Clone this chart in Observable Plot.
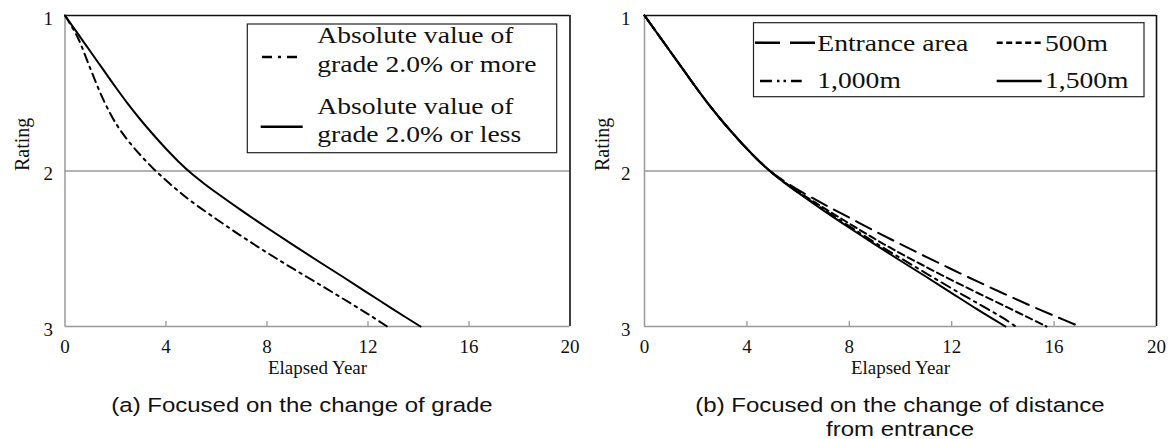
<!DOCTYPE html>
<html><head><meta charset="utf-8">
<script src="https://cdn.jsdelivr.net/npm/d3@7"></script>
<script src="https://cdn.jsdelivr.net/npm/@observablehq/plot@0.6"></script>
<style>
body{margin:0;background:#fff;}
#wrap{position:relative;width:1168px;height:439px;overflow:hidden;background:#fff;}
.panel{position:absolute;top:0;}
.cap{position:absolute;top:393px;width:600px;text-align:center;font-family:"Liberation Sans",Arial,sans-serif;font-size:20.5px;line-height:24px;color:#111;transform:scaleX(1.17);transform-origin:center;white-space:pre;}
</style></head><body>
<div id="wrap">
  <div id="pa" class="panel" style="left:0"></div>
  <div id="pb" class="panel" style="left:584px"></div>
  <div class="cap" id="capa" style="left:2px"></div>
  <div class="cap" id="capb" style="left:600px"></div>
</div>
<script>
// ---------- data ----------
const xTicks = [0, 4, 8, 12, 16, 20];
const xTickMarks = [4, 8, 12, 16];
const yTicks = [1, 2, 3];
const gridY = [2];
const xLabel = "Elapsed Year";
const yLabel = "Rating";
const captions = ["(a) Focused on the change of grade", "(b) Focused on the change of distance\nfrom entrance"];

// panel (a)
const moreLabel = ["Absolute value of", "grade 2.0% or more"];
const moreYears = [0, 0.5, 1, 1.5, 2, 2.5, 3, 3.5, 4, 4.5, 5, 6, 7, 8, 9, 10, 11, 12, 12.76];
const moreRating = [1, 1.14, 1.34, 1.535, 1.69, 1.805, 1.9, 1.985, 2.06, 2.13, 2.195, 2.31, 2.42, 2.525, 2.625, 2.722, 2.82, 2.92, 3.0];
const lessLabel = ["Absolute value of", "grade 2.0% or less"];
const lessYears = [0, 0.5, 1, 1.5, 2, 2.5, 3, 3.5, 4, 4.5, 5, 5.5, 6, 7, 8, 9, 10, 11, 12, 13, 14.08];
const lessRating = [1, 1.115, 1.23, 1.345, 1.46, 1.57, 1.672, 1.767, 1.857, 1.94, 2.015, 2.08, 2.14, 2.255, 2.365, 2.472, 2.577, 2.68, 2.785, 2.89, 3.0];

// panel (b)
const distLabels = ["Entrance area", "500m", "1,000m", "1,500m"];
const entranceYears = [0, 0.5, 1, 1.5, 2, 2.5, 3, 3.5, 4, 4.5, 5, 5.5, 6, 7, 8, 9, 10, 11, 12, 13, 14, 15, 16, 17];
const entranceRating = [1, 1.115, 1.23, 1.345, 1.46, 1.57, 1.672, 1.767, 1.857, 1.94, 2.012, 2.07, 2.122, 2.213, 2.3, 2.387, 2.47, 2.552, 2.632, 2.71, 2.786, 2.86, 2.931, 3.0];
const m500Years = [0, 0.5, 1, 1.5, 2, 2.5, 3, 3.5, 4, 4.5, 5, 5.5, 6, 7, 8, 9, 10, 11, 12, 13, 14, 15, 15.7];
const m500Rating = [1, 1.115, 1.23, 1.345, 1.46, 1.57, 1.672, 1.767, 1.857, 1.94, 2.014, 2.075, 2.132, 2.237, 2.338, 2.437, 2.53, 2.617, 2.702, 2.783, 2.863, 2.943, 3.0];
const m1000Years = [0, 0.5, 1, 1.5, 2, 2.5, 3, 3.5, 4, 4.5, 5, 5.5, 6, 7, 8, 9, 10, 11, 12, 13, 14, 14.5];
const m1000Rating = [1, 1.115, 1.23, 1.345, 1.46, 1.57, 1.672, 1.767, 1.857, 1.94, 2.015, 2.078, 2.137, 2.248, 2.355, 2.46, 2.56, 2.658, 2.755, 2.85, 2.945, 3.0];
const m1500Years = [0, 0.5, 1, 1.5, 2, 2.5, 3, 3.5, 4, 4.5, 5, 5.5, 6, 7, 8, 9, 10, 11, 12, 13, 14.1];
const m1500Rating = [1, 1.115, 1.23, 1.345, 1.46, 1.57, 1.672, 1.767, 1.857, 1.94, 2.015, 2.08, 2.14, 2.255, 2.365, 2.472, 2.577, 2.68, 2.785, 2.89, 3.0];

// ---------- styles ----------
const SERIF = "Liberation Serif";
const GRAY = "#999";
const W = 584, H = 386, MT = 15, MB = 60;
const toRows = (xs, ys) => xs.map((x, i) => ({x, y: ys[i]}));

function panel(series, marginLeft, marginRight, yPad) {
  const frameH = H - MT - MB;
  return Plot.plot({
    width: W, height: H, marginTop: MT, marginBottom: MB, marginLeft, marginRight,
    x: {domain: [0, 20]},
    y: {domain: [1, 3], reverse: true},
    style: {fontFamily: SERIF, fontSize: "19px", color: "#111", background: "transparent", overflow: "visible"},
    marks: [
      Plot.ruleY(gridY, {stroke: GRAY, strokeWidth: 1.3}),
      Plot.ruleY([yTicks[2]], {stroke: GRAY, strokeWidth: 1.5}),
      Plot.ruleX([xTicks[0]], {stroke: GRAY, strokeWidth: 1.5}),
      Plot.ruleX(xTickMarks, {stroke: GRAY, strokeWidth: 1.3, insetTop: frameH - 5}),
      ...series.map(s => Plot.line(toRows(s.x, s.y), {
        x: "x", y: "y", stroke: "#000", strokeWidth: 2,
        strokeDasharray: s.dash, curve: "catmull-rom"
      })),
      Plot.ruleY([yTicks[0]], {stroke: "#111", strokeWidth: 1.6}),
      Plot.ruleX([xTicks[5]], {stroke: "#111", strokeWidth: 1.6}),
      Plot.axisX({ticks: xTicks, tickSize: 0, tickPadding: 13, label: null, tickFormat: d => String(d), fontSize: 19, fontFamily: SERIF, fontVariant: "normal"}),
      Plot.axisY({ticks: yTicks, tickSize: 0, tickPadding: yPad, label: null, tickFormat: d => String(d), fontSize: 19, fontFamily: SERIF, fontVariant: "normal", dy: 3}),
      Plot.text([yLabel], {text: d => d, frameAnchor: "left", dx: -42, rotate: -90, fontSize: 20, fontFamily: SERIF, fill: "#111"}),
      Plot.text([xLabel], {text: d => d, frameAnchor: "bottom", dy: 47, fontSize: 19, fontFamily: SERIF, fill: "#111"})
    ]
  });
}

function legend(svg, ox, box, entries) {
  const g = d3.select(svg).append("g").attr("text-anchor", "start");
  g.append("rect").attr("x", box[0] - ox).attr("y", box[1]).attr("width", box[2]).attr("height", box[3])
    .attr("fill", "#fff").attr("stroke", "#222").attr("stroke-width", 1.2);
  entries.forEach(e => {
    g.append("line").attr("x1", e.sym[0] - ox).attr("x2", e.sym[1] - ox)
      .attr("y1", e.sym[2]).attr("y2", e.sym[2])
      .attr("stroke", "#000").attr("stroke-width", 2.5)
      .attr("stroke-dasharray", e.dash || null);
    e.lines.forEach((t, i) => {
      g.append("text").text(t)
        .attr("transform", `translate(${e.tx - ox},${e.ty[i]}) scale(1.15,1)`)
        .attr("text-anchor", "start")
        .attr("font-family", SERIF).attr("font-size", 24).attr("fill", "#111");
    });
  });
}

// panel (a)
const svgA = panel([
  {x: moreYears, y: moreRating, dash: "9,5,2.5,5"},
  {x: lessYears, y: lessRating}
], 64.5, 14.5, 12);
legend(svgA, 0, [247.3, 24, 309.4, 128.7], [
  {sym: [262, 300, 57], dash: "10,6,3,6,10", lines: moreLabel, tx: 317.3, ty: [43.3, 71.7]},
  {sym: [260.7, 302.7, 126.7], lines: lessLabel, tx: 317.3, ty: [114, 141.7]}
]);
document.getElementById("pa").appendChild(svgA);

// panel (b)
const svgB = panel([
  {x: entranceYears, y: entranceRating, dash: "17,8"},
  {x: m500Years, y: m500Rating, dash: "7,4"},
  {x: m1000Years, y: m1000Rating, dash: "10,5,2.5,5"},
  {x: m1500Years, y: m1500Rating}
], 60, 12, 14);
legend(svgB, 584, [753.5, 22.7, 390.5, 74], [
  {sym: [755, 815, 42.7], dash: "25,10", lines: [distLabels[0]], tx: 817.3, ty: [50.7]},
  {sym: [996.7, 1041.7, 42.7], dash: "6,3.5", lines: [distLabels[1]], tx: 1045, ty: [50.7]},
  {sym: [760, 801.7, 81], dash: "12,5,2.5,4,2.5,5,12", lines: [distLabels[2]], tx: 817.3, ty: [88.3]},
  {sym: [996.7, 1041.7, 81], lines: [distLabels[3]], tx: 1045, ty: [88.3]}
]);
document.getElementById("pb").appendChild(svgB);

document.getElementById("capa").textContent = captions[0];
document.getElementById("capb").textContent = captions[1];
</script>
</body></html>
